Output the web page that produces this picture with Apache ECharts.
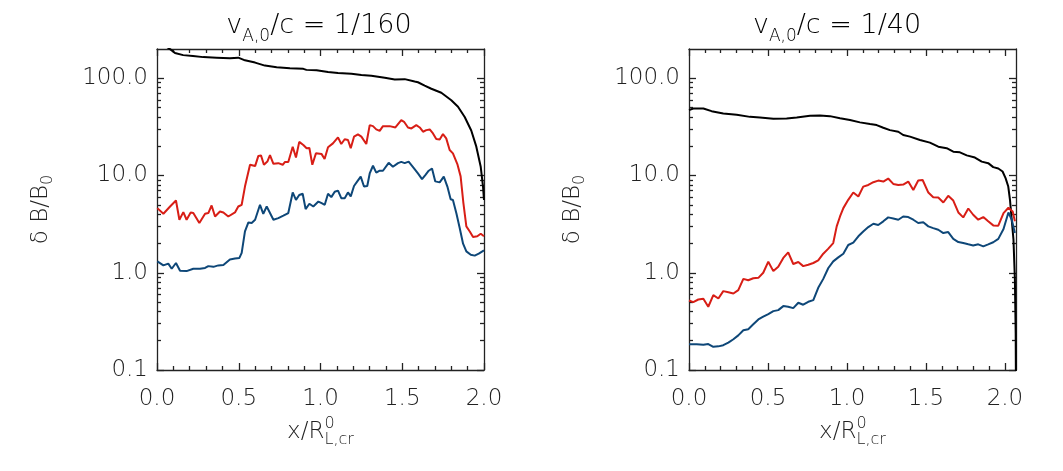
<!DOCTYPE html>
<html>
<head>
<meta charset="utf-8">
<script src="https://cdn.jsdelivr.net/npm/echarts@6.0.0/dist/echarts.min.js"></script>
<style>
html,body{margin:0;padding:0;background:#fff;}
.layer{position:absolute;left:0;top:0;width:1063px;height:471px;}
#dataLayer{pointer-events:none;}
</style>
</head>
<body>
<div id="axisLayer" class="layer"></div>
<div id="dataLayer" class="layer"></div>
<script>
// ---------------- data ----------------
const panelTitles = ['1/160', '1/40'];
const xMajorTicks = [0, 0.5, 1.0, 1.5, 2.0];
const xMinorTicks = [0.1, 0.2, 0.3, 0.4, 0.6, 0.7, 0.8, 0.9, 1.1, 1.2, 1.3, 1.4, 1.6, 1.7, 1.8, 1.9];
const yMajorTicks = [0.1, 1, 10, 100];
const yMinorTicks = [0.2, 0.3, 0.4, 0.5, 0.6, 0.7, 0.8, 0.9, 2, 3, 4, 5, 6, 7, 8, 9, 20, 30, 40, 50, 60, 70, 80, 90];
const yMin = 0.1, yMax = 200;
const xMaxLeft = 2.0, xMaxRight = 2.07;
const xLastTick = 2.0;

// left panel (vA0/c = 1/160)
const leftBlack = [[0,250],[0.04,222],[0.084,197],[0.11,182],[0.16,173],[0.22,169],[0.283,165],[0.365,163],[0.446,161],[0.497,163],[0.538,153],[0.6,145],[0.66,135],[0.732,130],[0.813,127],[0.895,125],[0.914,122],[0.976,121],[1.046,116],[1.107,113],[1.189,111],[1.25,108],[1.311,106],[1.393,101],[1.454,97],[1.515,98],[1.576,92.5],[1.596,91],[1.637,84],[1.678,78],[1.739,71],[1.8,59.5],[1.841,51],[1.882,40],[1.922,29],[1.953,19.8],[1.98,12.3],[1.994,7.7],[2.0,5.6]];
const leftRed = [[0.002,4.62],[0.039,4.04],[0.08,4.8],[0.116,5.53],[0.137,3.51],[0.161,4.2],[0.181,3.51],[0.206,4.17],[0.222,4.11],[0.259,3.25],[0.294,4.04],[0.314,4.11],[0.334,4.92],[0.355,3.79],[0.385,4.27],[0.406,4.17],[0.436,3.79],[0.477,4.17],[0.497,4.8],[0.518,5.0],[0.538,7.7],[0.569,12.9],[0.6,12.5],[0.62,15.9],[0.636,16.1],[0.654,12.9],[0.675,13.9],[0.691,16.2],[0.712,13.2],[0.742,13.4],[0.769,12.9],[0.783,13.8],[0.803,13.8],[0.83,19.8],[0.85,15.3],[0.87,22.2],[0.895,20.6],[0.915,19.1],[0.932,19.2],[0.95,12.9],[0.972,16.9],[1.007,16.6],[1.025,14.8],[1.046,19.5],[1.076,21.4],[1.107,24.7],[1.127,21.1],[1.148,23.6],[1.168,23.2],[1.185,19.1],[1.205,25.1],[1.229,26.5],[1.25,25.1],[1.28,21.1],[1.301,33],[1.321,32.2],[1.341,29.8],[1.362,28.8],[1.382,32.2],[1.423,32.2],[1.458,31.2],[1.494,37.1],[1.511,35.7],[1.535,31.2],[1.556,30.5],[1.586,33],[1.607,31.2],[1.627,28.2],[1.647,29.3],[1.668,29.8],[1.688,27.1],[1.708,23.7],[1.729,23.5],[1.749,26.7],[1.769,24.1],[1.79,18.3],[1.81,16.9],[1.837,13.1],[1.857,9.8],[1.874,5.2],[1.892,3.0],[1.913,2.66],[1.933,2.33],[1.959,2.37],[1.98,2.52],[2.0,2.37]];
const leftBlue = [[0.002,1.31],[0.039,1.19],[0.069,1.24],[0.09,1.10],[0.116,1.26],[0.141,1.05],[0.181,1.04],[0.222,1.10],[0.263,1.10],[0.294,1.12],[0.314,1.17],[0.345,1.15],[0.375,1.19],[0.406,1.20],[0.446,1.37],[0.477,1.40],[0.504,1.42],[0.518,1.60],[0.538,2.66],[0.559,3.29],[0.579,3.25],[0.6,3.51],[0.63,5.0],[0.65,4.04],[0.671,4.8],[0.712,3.51],[0.742,3.65],[0.773,3.86],[0.803,4.11],[0.83,6.7],[0.85,5.62],[0.87,6.3],[0.891,6.5],[0.909,4.52],[0.932,5.12],[0.956,4.8],[0.987,5.4],[1.007,5.2],[1.026,5.0],[1.046,6.5],[1.066,6.0],[1.087,6.8],[1.107,7.0],[1.127,5.85],[1.148,5.85],[1.168,6.7],[1.185,6.1],[1.205,7.8],[1.225,8.7],[1.246,9.75],[1.266,7.7],[1.286,7.8],[1.301,10.5],[1.321,12.6],[1.341,10.7],[1.362,11.2],[1.382,11.2],[1.417,13.5],[1.443,12.3],[1.474,13.4],[1.494,13.8],[1.515,13.4],[1.539,13.9],[1.566,12.2],[1.596,10.5],[1.621,9.2],[1.641,10.1],[1.662,11.2],[1.682,11.8],[1.702,8.7],[1.729,8.5],[1.754,9.75],[1.776,7.7],[1.796,5.7],[1.81,5.6],[1.831,4.1],[1.851,2.9],[1.872,1.99],[1.892,1.66],[1.919,1.53],[1.943,1.50],[1.968,1.57],[2.0,1.70]];

// right panel (vA0/c = 1/40)
const rightBlack = [[0,47],[0.027,48.9],[0.091,48.9],[0.143,45.9],[0.217,43.5],[0.302,42.1],[0.386,40.1],[0.449,39.5],[0.534,38.3],[0.618,38.6],[0.682,39.5],[0.766,41.1],[0.829,41.5],[0.892,40.8],[0.956,38.8],[1.019,37.2],[1.082,35.2],[1.146,33.8],[1.188,33],[1.23,31],[1.272,29.3],[1.325,28.2],[1.356,26.1],[1.399,25.1],[1.462,23.2],[1.525,21.8],[1.578,19.8],[1.631,19.1],[1.673,17.6],[1.715,17.3],[1.758,16.1],[1.81,15.3],[1.853,13.9],[1.894,13.4],[1.926,12.2],[1.958,11.8],[1.985,11.0],[2.004,9.4],[2.021,7.7],[2.032,5.6],[2.043,3.5],[2.054,2.19],[2.063,0.85],[2.068,0.24],[2.07,0.05]];
const rightRed = [[0,0.519],[0.027,0.499],[0.059,0.531],[0.091,0.54],[0.122,0.447],[0.154,0.589],[0.186,0.544],[0.217,0.647],[0.249,0.631],[0.281,0.612],[0.312,0.662],[0.344,0.865],[0.375,0.837],[0.407,0.879],[0.439,0.887],[0.47,1.0],[0.502,1.30],[0.534,1.04],[0.565,1.15],[0.597,1.42],[0.628,1.62],[0.66,1.23],[0.692,1.29],[0.723,1.17],[0.755,1.21],[0.787,1.26],[0.818,1.34],[0.85,1.57],[0.882,1.77],[0.913,2.02],[0.935,3.0],[0.956,3.79],[0.977,4.62],[1.008,5.62],[1.04,6.68],[1.072,6.08],[1.103,7.69],[1.135,8.0],[1.167,8.53],[1.198,8.87],[1.23,8.67],[1.261,9.31],[1.293,8.2],[1.325,8.0],[1.356,8.07],[1.388,8.67],[1.42,7.1],[1.451,8.87],[1.479,9.0],[1.515,6.68],[1.546,5.98],[1.578,5.94],[1.61,5.28],[1.641,6.18],[1.673,5.53],[1.705,4.17],[1.736,3.71],[1.768,4.58],[1.799,3.95],[1.831,3.51],[1.863,3.74],[1.894,3.38],[1.926,3.07],[1.958,3.05],[1.991,4.11],[2.022,4.66],[2.049,4.27],[2.063,3.38]];
const rightBlue = [[0,0.184],[0.049,0.184],[0.091,0.182],[0.122,0.185],[0.154,0.173],[0.186,0.175],[0.217,0.18],[0.249,0.191],[0.281,0.207],[0.312,0.227],[0.344,0.256],[0.375,0.262],[0.407,0.295],[0.439,0.331],[0.47,0.353],[0.502,0.376],[0.534,0.403],[0.565,0.413],[0.597,0.454],[0.628,0.447],[0.66,0.433],[0.692,0.491],[0.723,0.469],[0.755,0.503],[0.787,0.523],[0.818,0.70],[0.85,0.865],[0.882,1.12],[0.913,1.31],[0.945,1.44],[0.977,1.57],[1.008,1.93],[1.04,2.04],[1.072,2.37],[1.103,2.66],[1.135,2.95],[1.167,3.19],[1.198,3.10],[1.23,3.38],[1.261,3.71],[1.293,3.62],[1.325,3.51],[1.356,3.79],[1.388,3.74],[1.42,3.51],[1.451,3.25],[1.483,3.30],[1.515,3.0],[1.546,2.88],[1.578,2.77],[1.61,2.56],[1.641,2.62],[1.673,2.23],[1.705,2.07],[1.736,2.02],[1.768,1.96],[1.799,1.91],[1.831,1.96],[1.863,1.87],[1.894,1.96],[1.926,2.06],[1.958,2.23],[1.991,2.82],[2.022,4.17],[2.043,3.51],[2.063,2.56]];

// ---------------- style / layout ----------------
const FONT = 'DejaVu Sans';
const FW = 200;
const TXT = '#222';
const AX = '#222';
const C_BLACK = '#000000';
const C_RED = '#d81e16';
const C_BLUE = '#0e4778';
const MAJOR_LEN = 7, MINOR_LEN = 4;

const panelRects = [
  {left: 157, top: 49, width: 327, height: 321},
  {left: 689, top: 49, width: 327, height: 321}
];
const panelXMax = [xMaxLeft, xMaxRight];

// ---------- layer 1: frame, ticks and tick labels ----------
const tGrid = [], tX = [], tY = [];
function addPair(rect, xa, ya) {
  const gi = tGrid.length;
  tGrid.push(Object.assign({}, rect));
  xa.gridIndex = gi; ya.gridIndex = gi;
  tX.push(xa); tY.push(ya);
}
const hiddenX = () => ({type: 'value', min: 0, max: 2, show: false});
const hiddenY = () => ({type: 'value', min: 0, max: 1, show: false});
const lineSt = () => ({color: AX, width: 1.3});

// minor y ticks split into small groups (one axis each)
const yMinorGroups = [0, 1, 2].map(k => yMinorTicks.filter((v, i) => i % 3 === k));

panelRects.forEach((rect, p) => {
  // x ticks span 0..xLastTick with the panel's own scale
  const xRect = Object.assign({}, rect, {width: rect.width * xLastTick / panelXMax[p]});
  const xTickAxis = (pos, ticks, len, labels) => {
    const a = {type: 'value', min: 0, max: xLastTick, position: pos,
      splitLine: {show: false},
      axisLine: {show: false, onZero: false},
      axisTick: {show: true, inside: true, length: len, customValues: ticks, lineStyle: lineSt()},
      axisLabel: {show: false}};
    if (labels) a.axisLabel = {show: true, customValues: xMajorTicks, formatter: v => Number(v).toFixed(1),
      margin: 18, fontSize: 23, fontFamily: FONT, fontWeight: FW, color: TXT};
    return a;
  };
  addPair(xRect, xTickAxis('bottom', xMajorTicks, MAJOR_LEN, true), hiddenY());
  addPair(xRect, xTickAxis('bottom', xMinorTicks, MINOR_LEN, false), hiddenY());
  addPair(xRect, xTickAxis('top', xMajorTicks, MAJOR_LEN, false), hiddenY());
  addPair(xRect, xTickAxis('top', xMinorTicks, MINOR_LEN, false), hiddenY());
  // horizontal frame lines over the full panel width
  ['bottom', 'top'].forEach(pos => addPair(rect, {type: 'value', min: 0, max: 2, position: pos,
    splitLine: {show: false}, axisLine: {show: true, onZero: false, lineStyle: lineSt()},
    axisTick: {show: false}, axisLabel: {show: false}}, hiddenY()));
  // y axes (frame verticals, ticks, labels)
  const yTickAxis = (pos, ticks, len, showLine, labels) => {
    const a = {type: 'log', min: yMin, max: yMax, position: pos,
      splitLine: {show: false},
      axisLine: {show: showLine, onZero: false, lineStyle: lineSt()},
      axisTick: {show: true, inside: true, length: len, customValues: ticks, lineStyle: lineSt()},
      axisLabel: {show: false}};
    if (labels) a.axisLabel = {show: true, customValues: yMajorTicks, formatter: v => Number(v).toFixed(1),
      margin: 9, fontSize: 23, fontFamily: FONT, fontWeight: FW, color: TXT};
    return a;
  };
  ['left', 'right'].forEach(pos => {
    addPair(rect, hiddenX(), yTickAxis(pos, yMajorTicks, MAJOR_LEN, true, pos === 'left'));
    yMinorGroups.forEach(g => addPair(rect, hiddenX(), yTickAxis(pos, g, MINOR_LEN, false, false)));
  });
});
const axisChart = echarts.init(document.getElementById('axisLayer'));
axisChart.setOption({animation: false, backgroundColor: '#ffffff', grid: tGrid, xAxis: tX, yAxis: tY, series: []});

// ---------- layer 2: curves, axis titles, panel titles ----------
const dGrid = [], dX = [], dY = [];
panelRects.forEach((rect, p) => {
  dGrid.push(Object.assign({}, rect));
  dX.push({type: 'value', gridIndex: p, min: 0, max: panelXMax[p], position: 'bottom',
    splitLine: {show: false}, axisLine: {show: false}, axisTick: {show: false}, axisLabel: {show: false},
    name: '{n|x/R}{sup|0}{sub|L,cr}', nameLocation: 'middle', nameGap: 46,
    nameTextStyle: {rich: {
      n: {fontSize: 23, fontFamily: FONT, fontWeight: FW, color: TXT, lineHeight: 32},
      sup: {fontSize: 16, fontFamily: FONT, fontWeight: FW, color: TXT, lineHeight: 16, verticalAlign: 'top'},
      sub: {fontSize: 16, fontFamily: FONT, fontWeight: FW, color: TXT, lineHeight: 16, verticalAlign: 'bottom', padding: [0, 0, 0, -10]}
    }}});
  dY.push({type: 'log', gridIndex: p, min: yMin, max: yMax, position: 'left',
    splitLine: {show: false}, axisLine: {show: false}, axisTick: {show: false}, axisLabel: {show: false},
    name: '{n|δ B/B}{sub|0}', nameLocation: 'middle', nameGap: 101,
    nameTextStyle: {rich: {
      n: {fontSize: 23, fontFamily: FONT, fontWeight: FW, color: TXT, lineHeight: 30},
      sub: {fontSize: 16, fontFamily: FONT, fontWeight: FW, color: TXT, lineHeight: 16, verticalAlign: 'bottom'}
    }}});
});

function lineSeries(data, color, p) {
  return {type: 'line', data: data, xAxisIndex: p, yAxisIndex: p,
    showSymbol: false, symbol: 'none', clip: true, animation: false,
    lineStyle: {color: color, width: 2}, itemStyle: {color: color}};
}

const titleRich = {
  v: {fontSize: 27, fontFamily: FONT, fontWeight: FW, color: TXT, lineHeight: 38},
  s: {fontSize: 17, fontFamily: FONT, fontWeight: FW, color: TXT, lineHeight: 17, verticalAlign: 'bottom'},
  n: {fontSize: 27, fontFamily: FONT, fontWeight: FW, color: TXT, lineHeight: 38}
};
const titleCenters = [319, 837];

const dataChart = echarts.init(document.getElementById('dataLayer'));
dataChart.setOption({
  animation: false,
  backgroundColor: 'transparent',
  grid: dGrid,
  xAxis: dX,
  yAxis: dY,
  graphic: panelTitles.map((t, i) => ({
    type: 'text', x: titleCenters[i], y: 7,
    style: {text: '{v|v}{s|A,0}{n|/c = ' + t + '}', rich: titleRich, align: 'center', verticalAlign: 'top'}
  })),
  series: [
    lineSeries(leftBlack, C_BLACK, 0),
    lineSeries(leftRed, C_RED, 0),
    lineSeries(leftBlue, C_BLUE, 0),
    lineSeries(rightBlack, C_BLACK, 1),
    lineSeries(rightRed, C_RED, 1),
    lineSeries(rightBlue, C_BLUE, 1)
  ]
});
</script>
</body>
</html>
